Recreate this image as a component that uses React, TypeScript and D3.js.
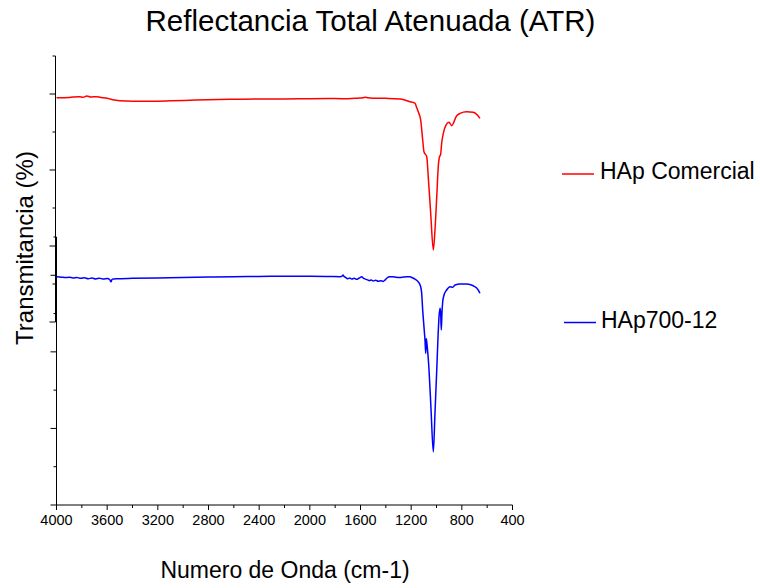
import React from "react";
import * as d3 from "d3";

const title = "Reflectancia Total Atenuada (ATR)";
const xLabel = "Numero de Onda (cm-1)";
const yLabel = "Transmitancia (%)";
const xTicks = [4000, 3600, 3200, 2800, 2400, 2000, 1600, 1200, 800, 400];
const xMinorTicks = [3800, 3400, 3000, 2600, 2200, 1800, 1400, 1000, 600];
const yMajorTicks = [0, 20, 40, 60];
const yMinorTicks = [10, 30, 50, 70];

const seriesNames = ["HAp Comercial", "HAp700-12"];
const seriesColors = ["#ff0000", "#0000ff"];

const redWavenumber = [
  4000, 3900, 3820, 3790, 3760, 3730, 3690, 3650, 3600, 3578, 3540, 3499, 3400, 3262, 3100, 2900, 2630,
  2400, 2200, 2000, 1800, 1700, 1620, 1580, 1564, 1540, 1500, 1400, 1288, 1240, 1209, 1186, 1170, 1155,
  1144, 1125, 1109, 1099, 1077, 1065, 1046, 1025, 1012, 998, 986, 975, 968, 959, 946, 925, 901, 880,
  867, 846, 814, 762, 710, 678, 657,
];
const redValue = [
  59.0, 59.1, 59.3, 59.15, 59.45, 59.2, 59.3, 59.1, 58.9, 58.7, 58.4, 58.2, 58.1, 58.1, 58.2, 58.4, 58.6,
  58.7, 58.7, 58.75, 58.8, 58.75, 58.9, 59.0, 59.15, 59.0, 58.9, 58.85, 58.7, 58.3, 57.97, 57.8, 57.55, 56.3,
  55.3, 53.2, 47.9, 44.8, 43.5, 38.2, 28.7, 18.95, 24.2, 33.0, 40.9, 43.6, 44.0, 47.1, 49.7, 51.8, 52.55, 51.66,
  52.3, 54.0, 54.9, 55.3, 55.2, 54.5, 53.6,
];

const blueWavenumber = [
  4000, 3960, 3930, 3900, 3870, 3840, 3810, 3780, 3750, 3720, 3690, 3660, 3630, 3600, 3580, 3570, 3560,
  3530, 3400, 3200, 3000, 2800, 2600, 2400, 2200, 2000, 1850, 1760, 1745, 1738, 1730, 1715, 1700, 1685,
  1670, 1650, 1630, 1610, 1590, 1575, 1560, 1545, 1530, 1515, 1500, 1480, 1460, 1440, 1422, 1405, 1391,
  1370, 1345, 1320, 1288, 1260, 1235, 1209, 1190, 1170, 1144, 1125, 1117, 1109, 1099, 1091, 1085, 1081,
  1073, 1059, 1043, 1025, 1012, 998, 990, 980, 972, 967, 962, 957, 951, 941, 920, 893, 872, 854, 814, 762,
  710, 670, 657,
];
const blueValue = [
  59.6, 59.5, 59.4, 59.5, 59.3, 59.45, 59.2, 59.35, 59.1, 59.3, 59.05, 59.25, 59.0, 59.15, 58.9, 58.3, 59.0,
  59.1, 59.2, 59.3, 59.4, 59.55, 59.65, 59.7, 59.75, 59.75, 59.7, 59.65, 59.8, 60.1, 59.7, 59.4, 59.1, 59.3,
  59.0, 59.2, 58.95, 59.3, 59.6, 59.2, 59.0, 58.8, 58.6, 58.8, 58.5, 58.7, 58.45, 58.6, 58.4, 58.8, 59.3,
  59.6, 59.6, 59.5, 59.45, 59.55, 59.62, 59.6, 59.35, 59.0, 58.3, 57.0, 55.3, 50.9, 46.6, 43.1, 39.6, 43.5,
  41.3, 35.3, 24.8, 13.9, 24.0, 35.3, 42.2, 49.2, 51.4, 50.1, 45.7, 50.1, 53.1, 54.8, 56.15, 57.0, 56.86, 57.46, 57.72, 57.72,
  57.27, 56.15, 55.3,
];

const FONT = "'Liberation Sans', Arial, Helvetica, sans-serif";

export default function App() {
  const x = d3.scaleLinear().domain([4000, 400]).range([56.5, 512.5]);
  const yUpper = d3.scaleLinear().domain([0, 70]).range([322, 56]);
  const yLower = d3.scaleLinear().domain([0, 70]).range([505, 237]);
  const xBase = 505;

  const redData = redWavenumber.map((w, i) => [w, redValue[i]] as [number, number]);
  const blueData = blueWavenumber.map((w, i) => [w, blueValue[i]] as [number, number]);

  const lineUpper = d3
    .line<[number, number]>()
    .x((d) => x(d[0]))
    .y((d) => yUpper(d[1]))
    .curve(d3.curveMonotoneX);
  const lineLower = d3
    .line<[number, number]>()
    .x((d) => x(d[0]))
    .y((d) => yLower(d[1]))
    .curve(d3.curveMonotoneX);

  const yAxis = (scale: d3.ScaleLinear<number, number>, ax: number) => (
    <g>
      <line x1={ax} x2={ax} y1={scale(0)} y2={scale(70)} stroke="#000" strokeWidth={1} />
      {yMajorTicks.map((t) => (
        <line key={"M" + t} x1={ax - 6} x2={ax} y1={scale(t)} y2={scale(t)} stroke="#000" strokeWidth={1} />
      ))}
      {yMinorTicks.map((t) => (
        <line key={"m" + t} x1={ax - 3} x2={ax} y1={scale(t)} y2={scale(t)} stroke="#000" strokeWidth={1} />
      ))}
    </g>
  );

  return (
    <svg
      width={760}
      height={588}
      style={{ position: "absolute", left: 0, top: 0, background: "#fff" }}
      fontFamily={FONT}
    >
      <rect x={0} y={0} width={760} height={588} fill="#fff" />
      <text x={370.5} y={31} textAnchor="middle" fontSize={29.5} fill="#000">
        {title}
      </text>

      {/* y axes (two overlapping offset axes) */}
      {yAxis(yUpper, 55.5)}
      {yAxis(yLower, 56.5)}

      {/* x axis */}
      <line x1={x(4000)} x2={x(400)} y1={xBase} y2={xBase} stroke="#000" strokeWidth={1} />
      {xTicks.map((t) => (
        <g key={t}>
          <line x1={x(t)} x2={x(t)} y1={xBase} y2={xBase + 5} stroke="#000" strokeWidth={1} />
          <text x={x(t)} y={525} textAnchor="middle" fontSize={14.5} fill="#000">
            {t}
          </text>
        </g>
      ))}
      {xMinorTicks.map((t) => (
        <line key={t} x1={x(t)} x2={x(t)} y1={xBase} y2={xBase + 3} stroke="#000" strokeWidth={1} />
      ))}

      <path d={lineUpper(redData) || ""} fill="none" stroke={seriesColors[0]} strokeWidth={1.5} />
      <path d={lineLower(blueData) || ""} fill="none" stroke={seriesColors[1]} strokeWidth={1.5} />

      <text x={285} y={578} textAnchor="middle" fontSize={23} fill="#000">
        {xLabel}
      </text>
      <text
        transform={`translate(33,248) rotate(-90)`}
        textAnchor="middle"
        fontSize={24}
        fill="#000"
      >
        {yLabel}
      </text>

      {/* legend */}
      <line x1={562} x2={594} y1={174} y2={174} stroke={seriesColors[0]} strokeWidth={1.5} />
      <text x={600} y={179} fontSize={23} fill="#000">
        {seriesNames[0]}
      </text>
      <line x1={564} x2={596} y1={322.5} y2={322.5} stroke={seriesColors[1]} strokeWidth={1.5} />
      <text x={601} y={328} fontSize={23} fill="#000">
        {seriesNames[1]}
      </text>
    </svg>
  );
}
